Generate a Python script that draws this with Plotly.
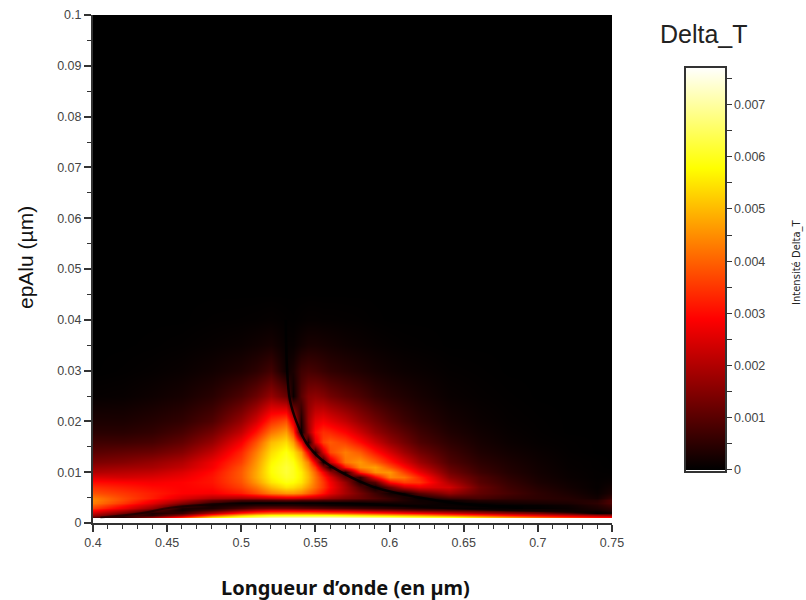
import numpy as np
import plotly.graph_objects as go

wavelength = [.40,.42,.44,.46,.48,.50,.51,.52,.53,.535,.54,.545,.55,.555,.56,.57,.58,.59,.60,.61,.62,.64,.66,.68,.70,.72,.74,.75]
thickness = [.0012,.0016,.002,.0025,.003,.0035,.004,.0045,.005,.006,.007,.008,.009,.010,.011,.012,.014,.016,.018,.02,.025,.03,.035,.04,.045,.1]
delta_t_milli = [
 [1.0,.3,1.5,3.2,5.3,6.3,6.6,6.9,7,7,7,7,7,7,7,6.9,6.8,6.7,6.6,6.4,6.2,5.9,5.2,4.6,4,3.5,3,2.9],
 [1.8,.8,.4,1.6,3.6,5,5.5,5.8,5.8,5.8,5.8,5.8,5.8,5.8,5.8,5.6,5.4,5.2,5,4.8,4.6,4,3.5,3,2.6,2.2,1.8,1.6],
 [2.3,1.3,.3,.6,2,3.3,3.8,4.1,4.2,4.2,4.2,4.2,4.1,4,3.9,3.8,3.6,3.4,3.2,3,2.8,2.4,2,1.7,1.4,.9,.1,.4],
 [3,2.1,1,.2,.8,1.7,2.1,2.4,2.4,2.4,2.3,2.3,2.3,2.2,2.1,2,1.8,1.6,1.5,1.3,1.1,.9,.7,.4,.3,.15,.2,.4],
 [3.6,2.7,1.7,.3,.3,.8,1.1,1.2,1.2,1.15,1.1,1.05,1,.95,.9,.8,.7,.6,.5,.4,.3,.2,.08,.05,.02,.1,.3,.5],
 [4,3.1,2.2,.9,.2,.3,.4,.4,.4,.4,.35,.3,.3,.25,.2,.15,.1,.07,.05,.08,.1,.08,.05,.02,.05,.15,.4,.7],
 [4.3,3.5,2.6,1.5,.6,.15,.1,.1,.15,.13,.12,.1,.1,.07,.05,.05,.05,.1,.15,.2,.2,.05,.1,.2,.25,.3,.5,.9],
 [4.4,3.7,2.9,2.1,1.2,.8,.8,.9,1,1,.9,.9,.9,.8,.8,.7,.6,.6,.55,.35,.15,.15,.4,.4,.4,.4,.4,.9],
 [4.3,3.7,3.2,2.5,2,1.9,2,2.2,2.4,2.4,2.3,2.2,2.1,1.9,1.7,1.4,1.2,.9,.6,.3,.1,.7,.8,.6,.5,.4,.2,.6],
 [3.8,3.5,3.2,2.9,2.8,3.2,3.7,4.3,4.6,4.6,4.4,4,3.6,3.1,2.6,1.9,1.3,.7,.2,.2,1,1.7,1.1,.8,.5,.3,.1,.3],
 [3.4,3.2,3,2.9,3,3.6,4.2,5,5.5,5.4,5.1,4.6,4.1,3.5,2.9,1.9,.9,.1,1.2,2.2,2.6,2.4,1.2,.7,.4,.2,.05,.2],
 [3,2.9,2.8,2.9,3.1,3.8,4.6,5.5,5.9,5.8,5.5,4.9,4.2,3.5,2.8,1.7,.3,1,3,3.6,3.5,2,1,.6,.3,.15,.05,.1],
 [2.5,2.4,2.5,2.7,3.1,3.9,4.8,5.7,6.1,6,5.6,5,4.2,3.3,2.5,1,.6,2.8,4.4,4.2,3.3,1.6,.9,.5,.25,.1,.03,.05],
 [2,2.1,2.2,2.5,3,3.9,4.8,5.8,6.2,6,5.6,4.9,4,2.8,1.7,.3,3.3,4.5,4.6,3.6,2.7,1.3,.7,.4,.2,.08,.03,.02],
 [1.7,1.8,1.9,2.2,2.8,3.8,4.7,5.8,6.2,6,5.4,4.6,3.5,1.6,.2,3.1,4.5,4.7,3.8,3,2.2,1.1,.6,.35,.18,.06,.02,.01],
 [1.4,1.5,1.7,2,2.7,3.6,4.6,5.7,6.1,5.9,5.2,4.3,2.6,.2,2.2,4.2,4.6,4,3.2,2.5,1.8,.9,.5,.3,.15,.05,.02,0],
 [1,1.1,1.2,1.5,2.2,3.3,4.3,5.4,5.9,5.5,4.6,2.7,.3,2.4,3.7,4.3,3.9,3.1,2.4,1.8,1.3,.7,.35,.2,.1,.03,0,0],
 [.7,.7,.8,1.1,1.7,2.8,3.8,5,5.4,4.7,2.8,.2,2.5,3.6,3.9,3.6,3,2.3,1.7,1.3,.9,.5,.25,.12,.05,.02,0,0],
 [.45,.45,.55,.8,1.3,2.2,3.1,4.2,4.7,3.6,.1,1.7,3,3.4,3.3,2.9,2.3,1.7,1.3,1,.7,.35,.18,.08,.03,0,0,0],
 [.3,.3,.4,.55,.9,1.7,2.4,3.4,3.8,2.5,.3,1.8,2.6,2.8,2.6,2.2,1.7,1.3,.95,.7,.5,.25,.12,.05,.02,0,0,0],
 [.06,.08,.15,.25,.45,.85,1.2,1.7,1.2,.1,1.0,1.5,1.6,1.5,1.3,1.05,.85,.6,.45,.35,.25,.1,.05,.02,0,0,0,0],
 [0,.02,.05,.1,.2,.35,.5,.75,.15,.3,.7,.8,.75,.65,.55,.45,.35,.25,.18,.13,.1,.04,.02,0,0,0,0,0],
 [0,0,.01,.03,.07,.12,.18,.25,.08,.08,.2,.28,.28,.25,.22,.16,.12,.08,.05,.03,.02,0,0,0,0,0,0,0],
 [0,0,0,0,.02,.03,.04,.06,.03,.02,.04,.06,.06,.05,.05,.04,.03,.01,0,0,0,0,0,0,0,0,0,0],
 [0]*28,
 [0]*28,
]
# zero-transmission valleys
upper_valley_x = [.530,.5308,.5328,.5375,.544,.5544,.5686,.589,.618,.645,.69]
upper_valley_y = [.04,.0307,.0242,.0197,.0157,.0124,.0098,.0071,.0051,.0039,.003]
lower_valley_x = [.405,.432,.452,.475,.50,.55,.573,.60,.64,.68,.72,.75]
lower_valley_y = [.0011,.0019,.003,.0036,.0039,.004,.0039,.0035,.0029,.0025,.0022,.002]

x_ticks = [.4,.45,.5,.55,.6,.65,.7,.75]
x_labels = ["0.4","0.45","0.5","0.55","0.6","0.65","0.7","0.75"]
y_ticks = [0,.01,.02,.03,.04,.05,.06,.07,.08,.09,.1]
y_labels = ["0","0.01","0.02","0.03","0.04","0.05","0.06","0.07","0.08","0.09","0.1"]
bar_ticks = [0,.0005,.001,.0015,.002,.0025,.003,.0035,.004,.0045,.005,.0055,.006,.0065,.007,.0075]
bar_labels = ["0","","0.001","","0.002","","0.003","","0.004","","0.005","","0.006","","0.007",""]

FONT = "Liberation Sans"
TXT = "#444444"
LEFT, RIGHT, TOP, BOTTOM = 93, 612, 15, 523
W, H = 806, 600
pw, ph = RIGHT-LEFT, BOTTOM-TOP

hot = [[0,"#ffffff"],[.0049,"#ffffff"],[.005,"#000000"],[.378,"#ff0000"],[.75,"#ffff00"],[1,"#ffffff"]]

fig = go.Figure()
fig.add_trace(go.Heatmap(
    x=wavelength, y=thickness, z=np.array(delta_t_milli)*1e-3,
    zmin=-.00004, zmax=.00772, colorscale=hot, zsmooth="best",
    colorbar=dict(
        x=(685-LEFT)/pw, xanchor="left", xpad=0, ypad=0,
        y=(BOTTOM-472)/ph, yanchor="bottom",
        lenmode="pixels", len=405, thicknessmode="pixels", thickness=41,
        outlinecolor="#333333", outlinewidth=2,
        tickmode="array", tickvals=bar_ticks, ticktext=bar_labels,
        ticks="outside", ticklen=5, tickwidth=1, tickcolor="#333333",
        tickfont=dict(family=FONT, size=12.5, color=TXT),
    ),
))
for xs, ys, w, op in [(upper_valley_x, upper_valley_y, 2.5, .85), (lower_valley_x, lower_valley_y, 2, .5)]:
    fig.add_trace(go.Scatter(x=xs, y=ys, mode="lines", showlegend=False, hoverinfo="skip",
                             line=dict(color="#000000", width=w, shape="spline", smoothing=1), opacity=op))

axis_style = dict(ticks="outside", ticklen=7, tickwidth=1.5, tickcolor="#333333", automargin=False,
                  showline=True, linecolor="#333333", linewidth=2, showgrid=False, zeroline=False,
                  tickfont=dict(family=FONT, size=12.5, color=TXT))
fig.update_layout(
    width=W, height=H, autosize=False, paper_bgcolor="white", plot_bgcolor="white",
    margin=dict(l=LEFT, r=W-RIGHT, t=TOP, b=H-BOTTOM),
    xaxis=dict(range=[.4,.75], tickmode="array", tickvals=x_ticks, ticktext=x_labels,
               minor=dict(dtick=.01, tick0=.4, ticks="outside", ticklen=4, tickwidth=1, tickcolor="#333333", showgrid=False),
               **axis_style),
    yaxis=dict(range=[0,.1], tickmode="array", tickvals=y_ticks, ticktext=y_labels,
               minor=dict(dtick=.005, tick0=0, ticks="outside", ticklen=4, tickwidth=1, tickcolor="#333333", showgrid=False),
               **axis_style),
    annotations=[
        dict(text="Delta_T", xref="paper", yref="paper", x=(704-LEFT)/pw, y=(BOTTOM-34)/ph, xanchor="center", yanchor="middle",
             showarrow=False, font=dict(family=FONT, size=25, color="#222222")),
        dict(text="Intensité Delta_T", xref="paper", yref="paper", x=(797-LEFT)/pw, y=(BOTTOM-262)/ph, xanchor="center", yanchor="middle",
             showarrow=False, textangle=-90, font=dict(family="DejaVu Sans", size=10, color="#222222")),
        dict(text="epAlu (µm)", xref="paper", yref="paper", x=(25-LEFT)/pw, y=(BOTTOM-258)/ph, xanchor="center", yanchor="middle",
             showarrow=False, textangle=-90, font=dict(family=FONT, size=21, color="#111111")),
        dict(text="<b>Longueur d’onde (en µm)</b>", xref="paper", yref="paper", x=(345-LEFT)/pw, y=(BOTTOM-587)/ph, xanchor="center", yanchor="middle",
             showarrow=False, font=dict(family="Noto Sans", size=20, color="#111111")),
    ],
)
fig.write_html("out.html", post_script="document.body.style.margin='0';", config=dict(displayModeBar=False))
